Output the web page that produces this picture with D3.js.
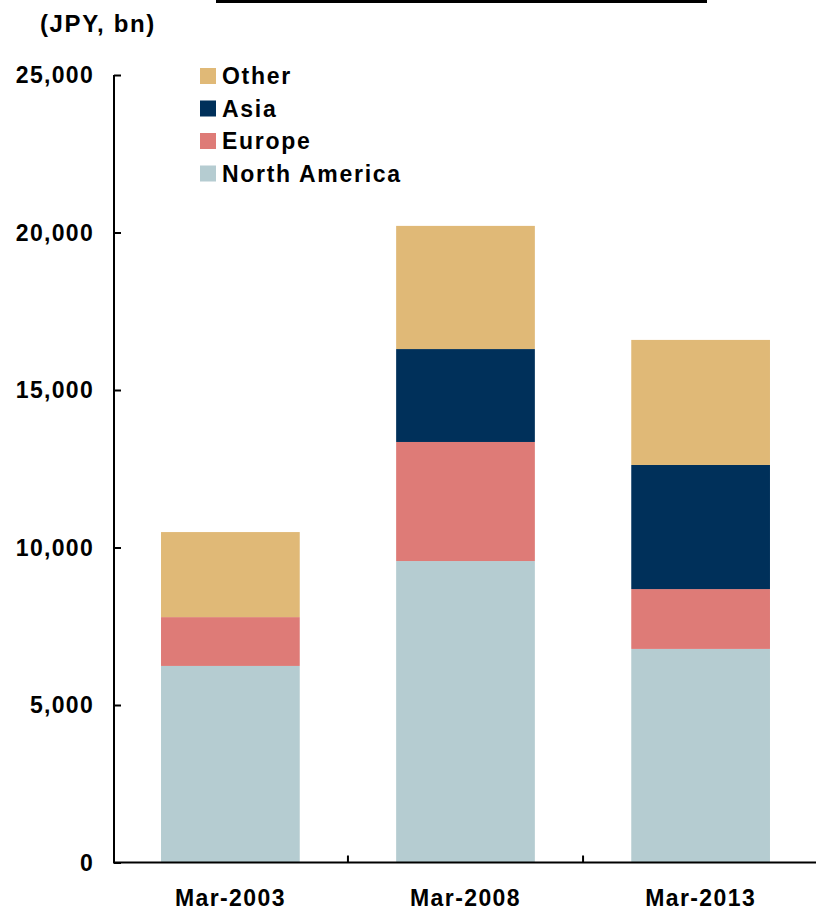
<!DOCTYPE html>
<html>
<head>
<meta charset="utf-8">
<script src="https://cdn.jsdelivr.net/npm/d3@7"></script>
<style>
  html, body { margin: 0; padding: 0; background: #fff; }
  svg { display: block; }
  text { font-family: "Liberation Sans", Arial, sans-serif; font-weight: bold; fill: #000; }
</style>
</head>
<body>
<svg id="chart" width="816" height="911"></svg>
<script>
// Overseas sales by region (JPY, bn)
const categories = ["Mar-2003", "Mar-2008", "Mar-2013"];
const seriesNames = ["North America", "Europe", "Asia", "Other"];
const northAmerica = [6240, 9570, 6780];
const europe = [1550, 3780, 1900];
const asia = [0, 2950, 3940];
const other = [2700, 3910, 3970];
const yTicks = [0, 5000, 10000, 15000, 20000, 25000];
const colors = { "North America": "#B5CCD1", "Europe": "#DE7B77", "Asia": "#00305A", "Other": "#E0B977" };

const rows = categories.map((c, i) => ({
  cat: c,
  "North America": northAmerica[i],
  "Europe": europe[i],
  "Asia": asia[i],
  "Other": other[i]
}));

const svg = d3.select("#chart");
const plotLeft = 114, plotRight = 817, plotTop = 75, plotBottom = 862.5;

const x = d3.scaleBand().domain(categories).range([plotLeft, plotRight])
  .paddingInner(0.41).paddingOuter(0.2);
const y = d3.scaleLinear().domain([0, 25000]).range([plotBottom, plotTop]);

const stack = d3.stack().keys(seriesNames)(rows);

// stacked bars
svg.append("g").selectAll("g").data(stack).join("g")
  .attr("fill", d => colors[d.key])
  .selectAll("rect").data(d => d).join("rect")
  .attr("x", d => x(d.data.cat))
  .attr("width", x.bandwidth())
  .attr("y", d => y(d[1]))
  .attr("height", d => y(d[0]) - y(d[1]));

// y axis: ticks point inward
const yAxis = svg.append("g").attr("transform", `translate(${plotLeft},0)`)
  .call(d3.axisRight(y).tickValues(yTicks).tickSize(7).tickFormat(""));
yAxis.select(".domain").attr("d", `M0,${plotTop}V${plotBottom}`);
yAxis.selectAll("path, line").attr("stroke", "#000").attr("stroke-width", 2);

svg.append("g").selectAll("text").data(yTicks).join("text")
  .attr("x", 94).attr("y", d => y(d)).attr("dy", "0.35em")
  .attr("text-anchor", "end")
  .style("font-size", "23px").style("letter-spacing", "1.3px")
  .text(d => d3.format(",")(d));

// x axis: boundary ticks between categories pointing up
const step = x.step();
const boundaries = categories.slice(0, -1).map(c => x(c) + x.bandwidth() + (step - x.bandwidth()) / 2);
const xg = svg.append("g");
xg.append("line").attr("x1", plotLeft - 1).attr("x2", 816).attr("y1", plotBottom).attr("y2", plotBottom)
  .attr("stroke", "#000").attr("stroke-width", 2);
xg.selectAll("line.tk").data(boundaries).join("line").attr("class", "tk")
  .attr("x1", d => d).attr("x2", d => d).attr("y1", plotBottom).attr("y2", plotBottom - 7)
  .attr("stroke", "#000").attr("stroke-width", 2);

svg.append("g").selectAll("text").data(categories).join("text")
  .attr("x", d => x(d) + x.bandwidth() / 2).attr("y", 906)
  .attr("text-anchor", "middle")
  .style("font-size", "23px").style("letter-spacing", "1.4px")
  .text(d => d);

// unit label
svg.append("text").attr("x", 40).attr("y", 32)
  .style("font-size", "24px").style("letter-spacing", "1.6px")
  .text("(JPY, bn)");

// rule at the top
svg.append("line").attr("x1", 216).attr("x2", 707).attr("y1", 1.5).attr("y2", 1.5)
  .attr("stroke", "#000").attr("stroke-width", 3);

// legend
const legendOrder = ["Other", "Asia", "Europe", "North America"];
const lg = svg.append("g").selectAll("g").data(legendOrder).join("g")
  .attr("transform", (d, i) => `translate(200,${76 + i * 32.5})`);
lg.append("rect").attr("x", 0).attr("y", -8).attr("width", 16).attr("height", 16)
  .attr("fill", d => colors[d]);
lg.append("text").attr("x", 22).attr("dy", "0.36em")
  .style("font-size", "23px").style("letter-spacing", "1.7px")
  .text(d => d);
</script>
</body>
</html>
